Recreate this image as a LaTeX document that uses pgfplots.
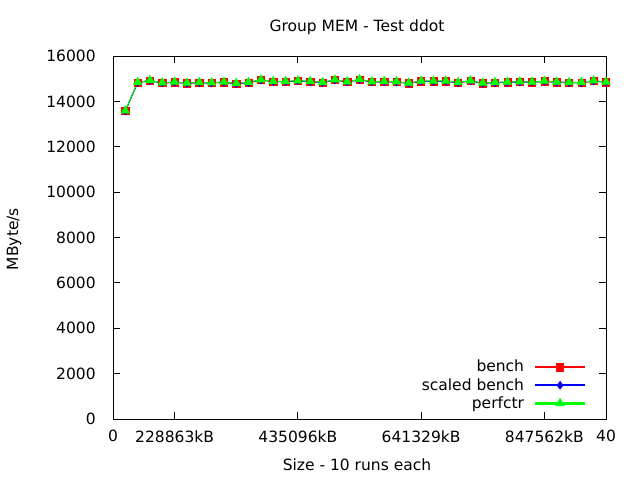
\documentclass[border=0pt]{standalone}
\usepackage{pgfplots}
\pgfplotsset{compat=1.18}
\usepackage{fontspec}
\setmainfont{DejaVu Sans}
\newcommand{\gfont}{\fontsize{15.5pt}{17pt}\selectfont}
\begin{document}
\gfont
\begin{tikzpicture}[x=1pt,y=1pt]
\begin{axis}[
  at={(113pt,61pt)}, anchor=south west,
  scale only axis, width=493pt, height=363pt,
  xmin=0, xmax=40, ymin=0, ymax=16000,
  xtick={0,5,15,25,35,40},
  xticklabels={0,228863kB,435096kB,641329kB,847562kB,40},
  ytick={0,2000,4000,6000,8000,10000,12000,14000,16000},
  scaled y ticks=false,
  /pgf/number format/assume math mode=true,
  yticklabel={\pgfmathprintnumber[fixed,1000 sep={}]{\tick}},
  tick align=inside, major tick length=7pt,
  tick style={black, line width=0.8pt},
  axis line style={black, line width=0.8pt},
  ticklabel style={font=\gfont},
  xticklabel style={yshift=-6pt},
  yticklabel style={xshift=-12pt},
  legend plot pos=right,
  legend cell align=right,
  legend style={draw=none, fill=none, at={(0.964,0.012)}, anchor=south east,
    font=\gfont, row sep=0pt, column sep=9pt},
  legend image code/.code={\fill (0pt,-0.7pt) rectangle (49pt,0.7pt); \path[mark repeat=2,mark phase=2] plot coordinates {(0pt,0pt) (24.5pt,0pt) (49pt,0pt)};},
]
\addplot[color=red, line width=1pt, mark=square*, mark size=3.6pt, mark options={line width=0.5pt}] coordinates {
(1,13575)(2,14826)(3,14914)(4,14811)(5,14840)(6,14796)(7,14826)(8,14811)(9,14840)(10,14781)
(11,14826)(12,14943)(13,14870)(14,14870)(15,14899)(16,14870)(17,14826)(18,14943)(19,14855)(20,14958)
(21,14855)(22,14870)(23,14855)(24,14796)(25,14884)(26,14884)(27,14884)(28,14826)(29,14899)(30,14796)
(31,14826)(32,14840)(33,14855)(34,14840)(35,14884)(36,14840)(37,14826)(38,14826)(39,14899)(40,14840)};
\addlegendentry{bench}
\addplot[color=blue, line width=1pt, mark=diamond*, mark size=4pt, mark options={line width=0.5pt}] coordinates {
(1,13575)(2,14826)(3,14914)(4,14811)(5,14840)(6,14796)(7,14826)(8,14811)(9,14840)(10,14781)
(11,14826)(12,14943)(13,14870)(14,14870)(15,14899)(16,14870)(17,14826)(18,14943)(19,14855)(20,14958)
(21,14855)(22,14870)(23,14855)(24,14796)(25,14884)(26,14884)(27,14884)(28,14826)(29,14899)(30,14796)
(31,14826)(32,14840)(33,14855)(34,14840)(35,14884)(36,14840)(37,14826)(38,14826)(39,14899)(40,14840)};
\addlegendentry{scaled bench}
\addplot[color=green, line width=1pt, mark=triangle*, mark size=5pt, mark options={line width=0.5pt}] coordinates {
(1,13591)(2,14841)(3,14929)(4,14826)(5,14855)(6,14811)(7,14841)(8,14826)(9,14855)(10,14796)
(11,14841)(12,14958)(13,14885)(14,14885)(15,14914)(16,14885)(17,14841)(18,14958)(19,14870)(20,14973)
(21,14870)(22,14885)(23,14870)(24,14811)(25,14899)(26,14899)(27,14899)(28,14841)(29,14914)(30,14811)
(31,14841)(32,14855)(33,14870)(34,14855)(35,14899)(36,14855)(37,14841)(38,14841)(39,14914)(40,14855)};
\addlegendentry{perfctr}
\end{axis}
\node at (357pt,453pt) {Group MEM - Test ddot};
\node[rotate=90] at (14pt,241pt) {MByte/s};
\node at (357pt,15pt) {Size - 10 runs each};
\pgfresetboundingbox
\path[use as bounding box] (0pt,0pt) rectangle (640pt,480pt);
\end{tikzpicture}
\end{document}
